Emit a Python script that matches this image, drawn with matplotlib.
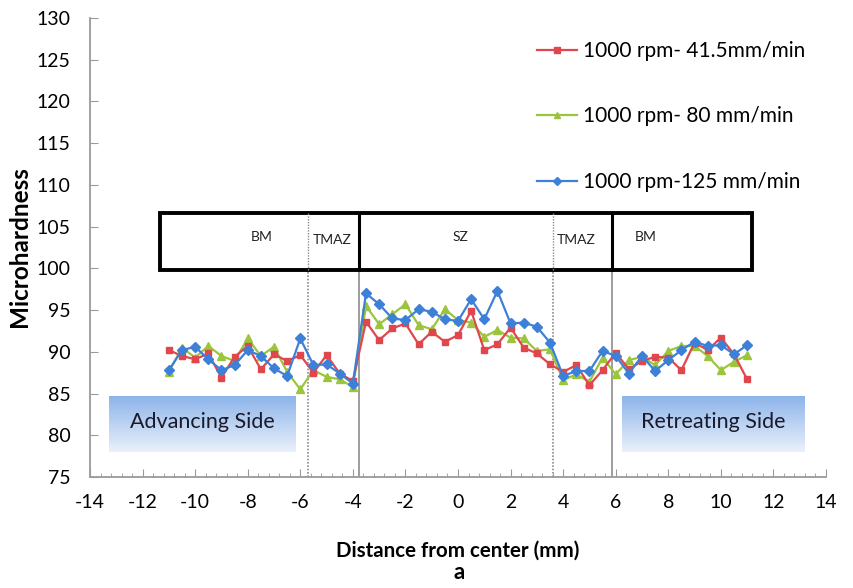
import numpy as np
import matplotlib
matplotlib.use("Agg")
import matplotlib.pyplot as plt
from matplotlib.patches import Rectangle
from matplotlib.ticker import MultipleLocator

plt.rcParams['font.family'] = ['Lato', 'DejaVu Sans']
plt.rcParams['axes.unicode_minus'] = False

# distance from weld center (mm), every 0.5 mm
distance = np.arange(-11, 11.01, 0.5)

hv_41 = [90.2, 89.5, 89.1, 89.8, 86.9, 89.4, 90.7, 87.9, 89.7, 88.9, 89.6, 87.5, 89.6, 87.4, 86.5,
         93.6, 91.4, 92.8, 93.4, 90.9, 92.4, 91.2, 92.0, 94.9, 90.2, 90.9, 92.9, 90.5, 89.8, 88.5,
         87.6, 88.4, 86.0, 87.8, 89.9, 87.9, 88.9, 89.4, 89.3, 87.8, 91.1, 90.2, 91.7, 89.7, 86.7]
hv_80 = [87.6, 90.5, 89.3, 90.7, 89.5, 88.9, 91.6, 89.5, 90.6, 87.6, 85.5, 87.8, 87.0, 86.7, 85.8,
         95.5, 93.3, 94.5, 95.7, 93.2, 92.7, 95.1, 93.8, 93.5, 91.8, 92.6, 91.7, 91.6, 90.1, 90.3,
         86.6, 87.3, 86.4, 89.3, 87.3, 89.0, 89.4, 88.4, 90.1, 90.7, 90.7, 89.5, 87.8, 88.8, 89.6]
hv_125 = [87.8, 90.2, 90.6, 89.1, 87.8, 88.4, 90.2, 89.5, 88.0, 87.1, 91.6, 88.4, 88.5, 87.4, 86.2,
          97.0, 95.7, 94.0, 93.8, 95.1, 94.8, 93.9, 93.7, 96.3, 93.9, 97.3, 93.4, 93.5, 93.0, 91.1,
          87.1, 87.7, 87.7, 90.1, 89.5, 87.4, 89.5, 87.7, 89.0, 90.2, 91.2, 90.7, 90.8, 89.7, 90.8]

labels = ['1000 rpm- 41.5mm/min', '1000 rpm- 80 mm/min', '1000 rpm-125 mm/min']

# zone boundaries (mm) and zone names
bounds = [-5.72, -3.76, 3.6, 5.84]
zones = ['BM', 'TMAZ', 'SZ', 'TMAZ', 'BM']
zone_x = [-7.45, -4.79, 0.1, 4.49, 7.15]

fig = plt.figure(figsize=(8.54, 5.88), dpi=100)
ax = fig.add_axes([0.1054, 0.1888, 0.8618, 0.7806])

ax.plot(distance, hv_41, color='#e0474c', marker='s', ms=5, lw=1.6, label=labels[0], zorder=5)
ax.plot(distance, hv_80, color='#9bc53d', marker='^', ms=6, lw=1.6, label=labels[1], zorder=4)
ax.plot(distance, hv_125, color='#3d80d8', marker='D', ms=5, lw=1.6, label=labels[2], zorder=6)

# zone box
box_lo, box_hi = 99.8, 106.6
ax.add_patch(Rectangle((-11.33, box_lo), 11.18 + 11.33, box_hi - box_lo,
                       fill=False, ec='black', lw=2.8, zorder=7))
for i, b in enumerate(bounds):
    solid = i in (1, 3)
    ax.plot([b, b], [75, box_lo], color='#8c8c8c', lw=1.2,
            ls='-' if solid else (0, (1, 1)), zorder=2)
    if solid:
        ax.plot([b, b], [box_lo, box_hi], color='black', lw=2.2, zorder=7)
    else:
        ax.plot([b, b], [box_lo, box_hi], color='#8c8c8c', lw=1.0, ls=(0, (1, 1)), zorder=7)
for zx, zn in zip(zone_x, zones):
    zy = 103.4 if zn == 'TMAZ' else 103.7
    ax.text(zx, zy, zn, ha='center', va='center', fontsize=10, color='#222222')

# gradient side boxes
grad = np.linspace(0, 1, 100).reshape(-1, 1)
cmap = matplotlib.colors.LinearSegmentedColormap.from_list('g', ['#8db4ea', '#eaf1fb'])
for (x0, x1), txt in [((-13.27, -6.16), 'Advancing Side'), ((6.24, 13.2), 'Retreating Side')]:
    ax.imshow(grad, extent=[x0, x1, 78.0, 84.6], cmap=cmap, aspect='auto', origin='upper', zorder=1)
    ax.text((x0 + x1) / 2, 81.6, txt, ha='center', va='center', fontsize=15.5, color='#1a1a2a', zorder=3)

ax.set_xlim(-14, 14)
ax.set_ylim(75, 130)
ax.xaxis.set_major_locator(MultipleLocator(2))
ax.xaxis.set_minor_locator(MultipleLocator(0.4))
ax.yaxis.set_major_locator(MultipleLocator(5))

for s in ['top', 'right']:
    ax.spines[s].set_visible(False)
for s in ['left', 'bottom']:
    ax.spines[s].set_color('#9a9a9a')
    ax.spines[s].set_linewidth(1.3)
ax.tick_params(axis='both', which='major', direction='in', length=6, color='#9a9a9a',
               labelsize=14, pad=8)
ax.tick_params(axis='x', which='minor', direction='in', length=3, color='#9a9a9a')
ax.tick_params(axis='y', pad=14)
ax.tick_params(axis='x', pad=12)

ax.set_xlabel('Distance from center (mm)', fontsize=14.8, fontweight='bold')
ax.xaxis.set_label_coords(0.5, -0.138)
ax.set_ylabel('Microhardness', fontsize=17.5, fontweight='bold')
ax.yaxis.set_label_coords(-0.08, 0.503)
fig.text(0.5375, 0.027, 'a', ha='center', va='center', fontsize=16, fontweight='bold')

ax.legend(loc='upper left', bbox_to_anchor=(0.617, 0.948), bbox_transform=fig.transFigure,
          frameon=False, fontsize=15, labelspacing=2.18, handlelength=1.9, handletextpad=0.3,
          markerscale=0.8, borderpad=0)

fig.savefig('out.png', dpi=100)
